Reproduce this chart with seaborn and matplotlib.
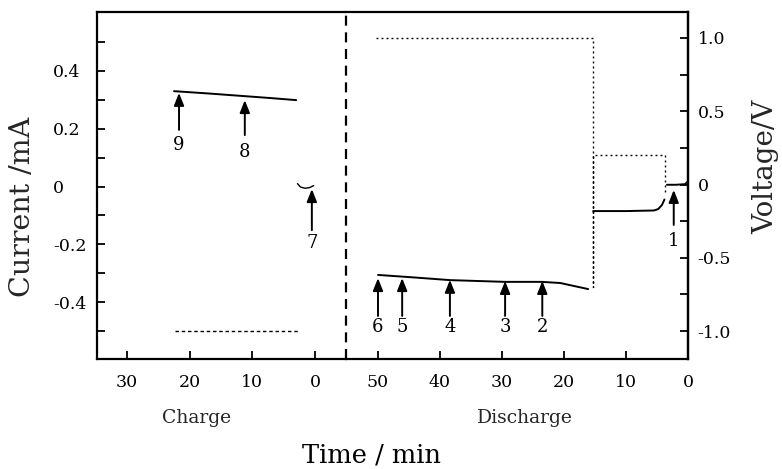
import matplotlib
matplotlib.use("Agg")
import matplotlib.pyplot as plt
import seaborn as sns

# ---------------- data ----------------
# Charge panel (time axis runs 30 -> 0 min)
charge_time = [22.5, 17.0, 12.0, 7.0, 3.0]
charge_current = [0.330, 0.322, 0.314, 0.306, 0.299]
charge_rest_time = [2.8, 2.3, 1.6, 0.9, 0.2]
charge_rest_current = [0.010, -0.002, -0.006, -0.004, 0.003]
charge_volt_time = [22.3, 2.4]
charge_voltage = [-1.0, -1.0]

# Discharge panel (time axis runs 50 -> 0 min)
dis_time_a = [50.0, 44.0, 38.4, 29.5, 23.6, 20.6, 16.1]
dis_current_a = [-0.306, -0.315, -0.324, -0.330, -0.330, -0.334, -0.355]
dis_time_b = [15.3, 10.0, 5.5, 4.8, 4.2, 3.8]
dis_current_b = [-0.085, -0.085, -0.083, -0.078, -0.064, -0.045]
dis_time_c = [3.4, 2.0, 0.5, 0.0]
dis_current_c = [0.006, 0.006, 0.008, 0.018]
dis_volt_time = [50.3, 15.3, 15.3, 15.3, 3.7, 3.7]
dis_voltage = [1.0, 1.0, -0.70, 0.20, 0.20, -0.07]

# Numbered arrows
charge_arrow_labels = ["9", "8", "7"]
charge_arrow_time = [21.7, 11.2, 0.5]
charge_arrow_tip = [0.324, 0.299, -0.009]
charge_arrow_tail = [0.196, 0.178, -0.151]
charge_arrow_text_y = [0.144, 0.119, -0.196]

dis_arrow_labels = ["6", "5", "4", "3", "2", "1"]
dis_arrow_time = [50.0, 46.1, 38.4, 29.5, 23.5, 2.3]
dis_arrow_tip = [-0.317, -0.317, -0.323, -0.327, -0.327, -0.012]
dis_arrow_tail = [-0.448, -0.448, -0.448, -0.448, -0.448, -0.133]
dis_arrow_text_y = [-0.486, -0.486, -0.486, -0.486, -0.486, -0.189]

current_ticks = [-0.4, -0.2, 0.0, 0.2, 0.4]
current_ticklabels = ["-0.4", "-0.2", "0", "0.2", "0.4"]
current_minor = [-0.5, -0.3, -0.1, 0.1, 0.3, 0.5]
voltage_ticks = [-1.0, -0.5, 0.0, 0.5, 1.0]
voltage_ticklabels = ["-1.0", "-0.5", "0", "0.5", "1.0"]
voltage_minor = [-0.75, -0.25, 0.25, 0.75]
charge_xticks = [30, 20, 10, 0]
dis_xticks = [50, 40, 30, 20, 10, 0]

# ---------------- style ----------------
sns.set_style("ticks")
plt.rcParams["font.family"] = ["DejaVu Serif"]
plt.rcParams["axes.edgecolor"] = "black"
plt.rcParams["axes.linewidth"] = 1.6
plt.rcParams["text.color"] = "black"
plt.rcParams["xtick.color"] = "black"
plt.rcParams["ytick.color"] = "black"

W, H = 782, 469
fig = plt.figure(figsize=(W / 100, H / 100), dpi=100)
left, sep, right, top, bottom = 97, 346, 688, 12, 359
ax1 = fig.add_axes([left / W, 1 - bottom / H, (sep - left) / W, (bottom - top) / H])
ax2 = fig.add_axes([sep / W, 1 - bottom / H, (right - sep) / W, (bottom - top) / H])
tw1 = ax1.twinx()
tw2 = ax2.twinx()

CUR_LIM = (-0.597, 0.604)
VOLT_LIM = (-1.19, 1.177)
ax1.set_xlim(34.79, -4.95)
ax2.set_xlim(55.16, 0)
for a in (ax1, ax2):
    a.set_ylim(*CUR_LIM)
for a in (tw1, tw2):
    a.set_ylim(*VOLT_LIM)

lw = 1.4
# current traces
sns.lineplot(x=charge_time, y=charge_current, ax=ax1, color="k", lw=lw, sort=False, estimator=None)
sns.lineplot(x=charge_rest_time, y=charge_rest_current, ax=ax1, color="k", lw=1.0, sort=False, estimator=None)
sns.lineplot(x=dis_time_a, y=dis_current_a, ax=ax2, color="k", lw=lw, sort=False, estimator=None)
sns.lineplot(x=dis_time_b, y=dis_current_b, ax=ax2, color="k", lw=lw, sort=False, estimator=None)
sns.lineplot(x=dis_time_c, y=dis_current_c, ax=ax2, color="k", lw=lw, sort=False, estimator=None)
# voltage traces
sns.lineplot(x=charge_volt_time, y=charge_voltage, ax=tw1, color="k", lw=1.0,
             linestyle=(0, (2.5, 2.0)), sort=False, estimator=None)
sns.lineplot(x=dis_volt_time, y=dis_voltage, ax=tw2, color="k", lw=1.0,
             linestyle=(0, (1.4, 2.2)), sort=False, estimator=None)

# arrows and numbers
arrow_kw = dict(arrowstyle="-|>,head_length=0.75,head_width=0.3", lw=1.4, color="k",
                shrinkA=0, shrinkB=0)
for lab, t, tip, tail, ty in zip(charge_arrow_labels, charge_arrow_time, charge_arrow_tip,
                                 charge_arrow_tail, charge_arrow_text_y):
    ax1.annotate("", xy=(t, tip), xytext=(t, tail), arrowprops=arrow_kw)
    ax1.text(t, ty, lab, ha="center", va="center", fontsize=13)
for lab, t, tip, tail, ty in zip(dis_arrow_labels, dis_arrow_time, dis_arrow_tip,
                                 dis_arrow_tail, dis_arrow_text_y):
    ax2.annotate("", xy=(t, tip), xytext=(t, tail), arrowprops=arrow_kw)
    ax2.text(t, ty, lab, ha="center", va="center", fontsize=13)

# separator
ax2.axvline(55.16, color="k", lw=1.6, linestyle=(0, (4.5, 3.0)), clip_on=False)

# spines
ax1.spines["right"].set_visible(False)
ax2.spines["left"].set_visible(False)
for s in tw1.spines.values():
    s.set_visible(False)
for k in ("left", "top", "bottom"):
    tw2.spines[k].set_visible(False)

# ticks
ax1.set_yticks(current_ticks)
ax1.set_yticklabels(current_ticklabels)
ax1.set_yticks(current_minor, minor=True)
ax1.tick_params(axis="y", which="both", direction="in", length=6, width=1.3,
                labelsize=12.5, pad=31.5, left=True, right=False)
for lbl in ax1.get_yticklabels():
    lbl.set_horizontalalignment("left")
ax2.set_yticks([])
ax2.tick_params(axis="y", which="both", left=False, right=False)

tw1.set_yticks([])
tw1.tick_params(axis="y", which="both", left=False, right=False)
tw2.set_yticks(voltage_ticks)
tw2.set_yticklabels(voltage_ticklabels)
tw2.set_yticks(voltage_minor, minor=True)
tw2.tick_params(axis="y", which="both", direction="in", length=6, width=1.3,
                labelsize=12.5, pad=7)

ax1.set_xticks(charge_xticks)
ax2.set_xticks(dis_xticks)
for a in (ax1, ax2):
    a.tick_params(axis="x", which="both", direction="in", length=6, width=1.3,
                  labelsize=12.5, pad=11, top=False)
    a.set_xlabel("")
    a.set_ylabel("")
    a.grid(False)

# labels
ax1.set_xlabel("Charge", fontsize=13.5)
ax1.xaxis.set_label_coords((197 - left) / (sep - left), (bottom - 418) / (bottom - top))
ax2.set_xlabel("Discharge", fontsize=13.5)
ax2.xaxis.set_label_coords((525 - sep) / (right - sep), (bottom - 418) / (bottom - top))
for a in (ax1, ax2):
    a.xaxis.label.set_verticalalignment("center")
ax1.set_ylabel("Current /mA", fontsize=20.5)
ax1.yaxis.set_label_coords((22 - left) / (sep - left), (bottom - 207) / (bottom - top))
ax1.yaxis.label.set_verticalalignment("center")
tw2.set_ylabel("Voltage/V", fontsize=20)
tw2.yaxis.set_label_coords((766 - sep) / (right - sep), (bottom - 167) / (bottom - top))
tw2.yaxis.label.set_verticalalignment("center")
fig.text(372 / W, 1 - 455 / H, "Time / min", ha="center", va="center", fontsize=18.5)

fig.savefig("out.png", dpi=100)
